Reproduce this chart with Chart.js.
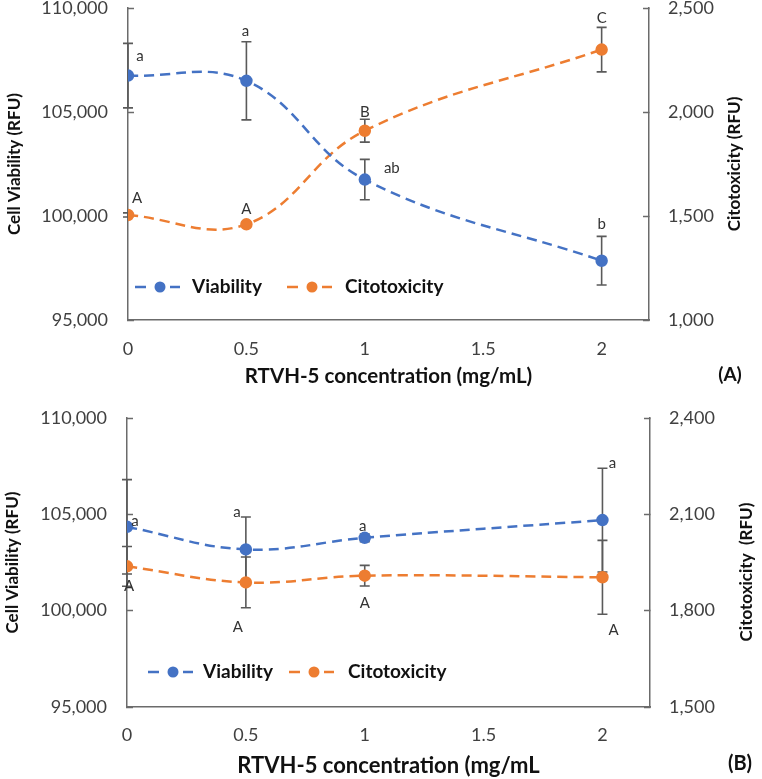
<!DOCTYPE html>
<html>
<head>
<meta charset="utf-8">
<script src="https://cdn.jsdelivr.net/npm/chart.js@4.4.1/dist/chart.umd.min.js"></script>
<style>
  html, body { margin: 0; padding: 0; background: #fff; }
  .panel { position: absolute; left: 0; }
  #panelA { top: 0; }
  #panelB { top: 390px; }
</style>
</head>
<body>
<div class="panel" id="panelA"><canvas id="chartA" width="762" height="390"></canvas></div>
<div class="panel" id="panelB"><canvas id="chartB" width="762" height="389"></canvas></div>
<script>
// RTVH-5 concentrations (mg/mL) and axis ticks
const concentrations = [0, 0.5, 1, 2];
const xTicks = [0, 0.5, 1, 1.5, 2];

// Panel A
const viabilityA = [106750, 106500, 101750, 97850];
const viabilityErrA = [1550, 1880, 970, 1170];
const citotoxA = [1505, 1460, 1910, 2300];
const citotoxErrA = [10, 10, 55, 107];
const viabilityLettersA = ['a', 'a', 'ab', 'b'];
const citotoxLettersA = ['A', 'A', 'B', 'C'];
const leftTicksA = [95000, 100000, 105000, 110000];
const rightTicksA = [1000, 1500, 2000, 2500];

// Panel B
const viabilityB = [104350, 103180, 103780, 104700];
const viabilityErrB = [2450, 1680, 200, 2690];
const citotoxB = [1938, 1888, 1909, 1904];
const citotoxErrB = [62, 79, 32, 115];
const viabilityLettersB = ['a', 'a', 'a', 'a'];
const citotoxLettersB = ['A', 'A', 'A', 'A'];
const leftTicksB = [95000, 100000, 105000, 110000];
const rightTicksB = [1500, 1800, 2100, 2400];

const FONT = 'Lato, "Open Sans", sans-serif';
const BLUE = '#4472C4';
const ORANGE = '#ED7D31';
const AXIS = '#6b6b6b';

// error bars, drawn under the markers
const errorBars = {
  id: 'errorBars',
  beforeDatasetsDraw(chart) {
    const ctx = chart.ctx;
    const xs = chart.scales.x;
    ctx.save();
    ctx.strokeStyle = '#5a5a5a';
    ctx.lineWidth = 1.6;
    chart.data.datasets.forEach(ds => {
      const ys = chart.scales[ds.yAxisID];
      ds.data.forEach((p, j) => {
        const e = ds.errors[j];
        const x = xs.getPixelForValue(p.x);
        const t = ys.getPixelForValue(p.y + e);
        const b = ys.getPixelForValue(p.y - e);
        ctx.beginPath();
        ctx.moveTo(x, t); ctx.lineTo(x, b);
        ctx.moveTo(x - 5, t); ctx.lineTo(x + 5, t);
        ctx.moveTo(x - 5, b); ctx.lineTo(x + 5, b);
        ctx.stroke();
      });
    });
    ctx.restore();
  }
};

// significance letters next to each point
const letters = {
  id: 'letters',
  afterDatasetsDraw(chart, args, opts) {
    const ctx = chart.ctx;
    const xs = chart.scales.x;
    ctx.save();
    ctx.font = '15px ' + FONT;
    ctx.fillStyle = '#333';
    ctx.textAlign = 'center';
    ctx.textBaseline = 'middle';
    chart.data.datasets.forEach((ds, i) => {
      const ys = chart.scales[ds.yAxisID];
      ds.data.forEach((p, j) => {
        const off = opts.offsets[i][j];
        ctx.fillText(ds.letters[j], xs.getPixelForValue(p.x) + off[0], ys.getPixelForValue(p.y) + off[1]);
      });
    });
    ctx.restore();
  }
};

// legend: dashed line with marker, inside the plot
const lineLegend = {
  id: 'lineLegend',
  afterDraw(chart, args, opts) {
    const ctx = chart.ctx;
    const y = opts.y;
    chart.data.datasets.forEach((ds, i) => {
      const m = opts.markers[i];
      ctx.save();
      ctx.strokeStyle = ds.borderColor;
      ctx.lineWidth = 2.5;
      ctx.beginPath();
      ctx.moveTo(m - 25, y); ctx.lineTo(m - 14, y);
      ctx.moveTo(m + 10, y); ctx.lineTo(m + 20, y);
      ctx.stroke();
      ctx.fillStyle = ds.borderColor;
      ctx.beginPath();
      ctx.arc(m, y, 5.5, 0, Math.PI * 2);
      ctx.fill();
      ctx.font = 'bold 19px ' + FONT;
      ctx.fillStyle = '#111';
      ctx.textAlign = 'left';
      ctx.textBaseline = 'middle';
      ctx.fillText(ds.label, opts.texts[i], y);
      ctx.restore();
    });
  }
};

// right axis title (reads bottom to top) and panel tag
const sideText = {
  id: 'sideText',
  afterDraw(chart, args, opts) {
    const ctx = chart.ctx;
    ctx.save();
    ctx.fillStyle = '#111';
    ctx.textAlign = 'center';
    ctx.textBaseline = 'middle';
    ctx.font = 'bold 17px ' + FONT;
    ctx.translate(opts.titleX, opts.titleY);
    ctx.rotate(-Math.PI / 2);
    ctx.fillText(opts.title, 0, 0);
    ctx.restore();
    ctx.save();
    ctx.fillStyle = '#111';
    ctx.textAlign = 'center';
    ctx.textBaseline = 'middle';
    ctx.font = 'bold ' + opts.tagSize + 'px ' + FONT;
    ctx.fillText(opts.tag, opts.tagX, opts.tagY);
    ctx.restore();
  }
};

function pts(ys) {
  return concentrations.map((c, i) => ({ x: c, y: ys[i] }));
}

function fixedTicks(values) {
  return scale => { scale.ticks = values.map(v => ({ value: v })); };
}

function makeChart(id, p) {
  return new Chart(document.getElementById(id).getContext('2d'), {
    type: 'line',
    data: {
      datasets: [{
        label: 'Viability',
        data: pts(p.viability),
        errors: p.viabilityErr,
        letters: p.viabilityLetters,
        yAxisID: 'y',
        borderColor: BLUE,
        backgroundColor: BLUE,
        pointBackgroundColor: BLUE,
        pointBorderColor: BLUE,
        pointRadius: 5,
        borderWidth: 2.5,
        borderDash: [10, 6],
        tension: 0.4,
        fill: false
      }, {
        label: 'Citotoxicity',
        data: pts(p.citotox),
        errors: p.citotoxErr,
        letters: p.citotoxLetters,
        yAxisID: 'y2',
        borderColor: ORANGE,
        backgroundColor: ORANGE,
        pointBackgroundColor: ORANGE,
        pointBorderColor: ORANGE,
        pointRadius: 5,
        borderWidth: 2.5,
        borderDash: [10, 6],
        tension: 0.4,
        fill: false
      }]
    },
    options: {
      responsive: false,
      animation: false,
      layout: { padding: { top: p.top, left: 0, right: 0, bottom: 0 } },
      plugins: {
        legend: { display: false },
        tooltip: { enabled: false },
        letters: { offsets: p.letterOffsets },
        lineLegend: p.legend,
        sideText: p.side
      },
      scales: {
        x: {
          type: 'linear',
          min: 0,
          max: 2.2,
          afterBuildTicks: fixedTicks(xTicks),
          afterFit: s => { s.height = p.xHeight; s.paddingLeft = 0; s.paddingRight = 0; },
          grid: { display: true, drawOnChartArea: false, drawTicks: false },
          border: { display: true, color: AXIS, width: 1.5 },
          ticks: {
            padding: p.xPad,
            color: '#404040',
            font: { family: FONT, size: 18 },
            callback: v => String(v)
          },
          title: {
            display: true,
            text: p.xTitle,
            color: '#111',
            font: { family: FONT, size: p.xTitleSize, weight: 'bold' },
            padding: { top: 0, bottom: p.xTitlePad }
          }
        },
        y: {
          position: 'left',
          min: p.leftTicks[0],
          max: p.leftTicks[p.leftTicks.length - 1],
          afterBuildTicks: fixedTicks(p.leftTicks),
          afterFit: s => { s.width = p.left; s.paddingTop = 0; s.paddingBottom = 0; },
          grid: { drawOnChartArea: false, drawTicks: true, tickLength: -6, tickColor: AXIS, tickWidth: 1.5 },
          border: { display: true, color: AXIS, width: 1.5 },
          ticks: {
            padding: 26,
            color: '#404040',
            font: { family: FONT, size: 18 },
            callback: v => v.toLocaleString('en-US')
          },
          title: {
            display: true,
            text: 'Cell Viability (RFU)',
            color: '#111',
            font: { family: FONT, size: 17, weight: 'bold' },
            padding: { top: p.yTitlePad, bottom: 0 }
          }
        },
        y2: {
          position: 'right',
          min: p.rightTicks[0],
          max: p.rightTicks[p.rightTicks.length - 1],
          afterBuildTicks: fixedTicks(p.rightTicks),
          afterFit: s => { s.width = p.right; s.paddingTop = 0; s.paddingBottom = 0; },
          grid: { drawOnChartArea: false, drawTicks: true, tickLength: -6, tickColor: AXIS, tickWidth: 1.5 },
          border: { display: true, color: AXIS, width: 1.5 },
          ticks: {
            padding: 25,
            color: '#404040',
            font: { family: FONT, size: 18 },
            callback: v => v.toLocaleString('en-US')
          }
        }
      }
    },
    plugins: [errorBars, letters, lineLegend, sideText]
  });
}

makeChart('chartA', {
  viability: viabilityA, viabilityErr: viabilityErrA, viabilityLetters: viabilityLettersA,
  citotox: citotoxA, citotoxErr: citotoxErrA, citotoxLetters: citotoxLettersA,
  leftTicks: leftTicksA, rightTicks: rightTicksA,
  top: 8, left: 128, right: 113, xHeight: 70, xPad: 18,
  xTitle: 'RTVH-5 concentration (mg/mL)', xTitleSize: 20.5, xTitlePad: 1, yTitlePad: 4,
  letterOffsets: [
    [[12, -19], [-1, -50], [27, -11], [0, -37]],
    [[9, -17], [0, -15], [0, -19], [0, -31]]
  ],
  legend: { y: 287, markers: [160, 312], texts: [192, 345] },
  side: { title: 'Citotoxicity (RFU)', titleX: 735, titleY: 164, tag: '(A)', tagX: 730, tagY: 375, tagSize: 19 }
});

makeChart('chartB', {
  viability: viabilityB, viabilityErr: viabilityErrB, viabilityLetters: viabilityLettersB,
  citotox: citotoxB, citotoxErr: citotoxErrB, citotoxLetters: citotoxLettersB,
  leftTicks: leftTicksB, rightTicks: rightTicksB,
  top: 28, left: 127, right: 112, xHeight: 72, xPad: 17,
  xTitle: 'RTVH-5 concentration (mg/mL', xTitleSize: 22, xTitlePad: 0, yTitlePad: 2,
  letterOffsets: [
    [[8, -6], [-9, -37], [-2, -12], [10, -57]],
    [[2, 20], [-8, 45], [0, 27], [11, 53]]
  ],
  legend: { y: 282, markers: [173, 314], texts: [203, 348] },
  side: { title: 'Citotoxicity  (RFU)', titleX: 747, titleY: 182, tag: '(B)', tagX: 740, tagY: 374, tagSize: 20 }
});
</script>
</body>
</html>
